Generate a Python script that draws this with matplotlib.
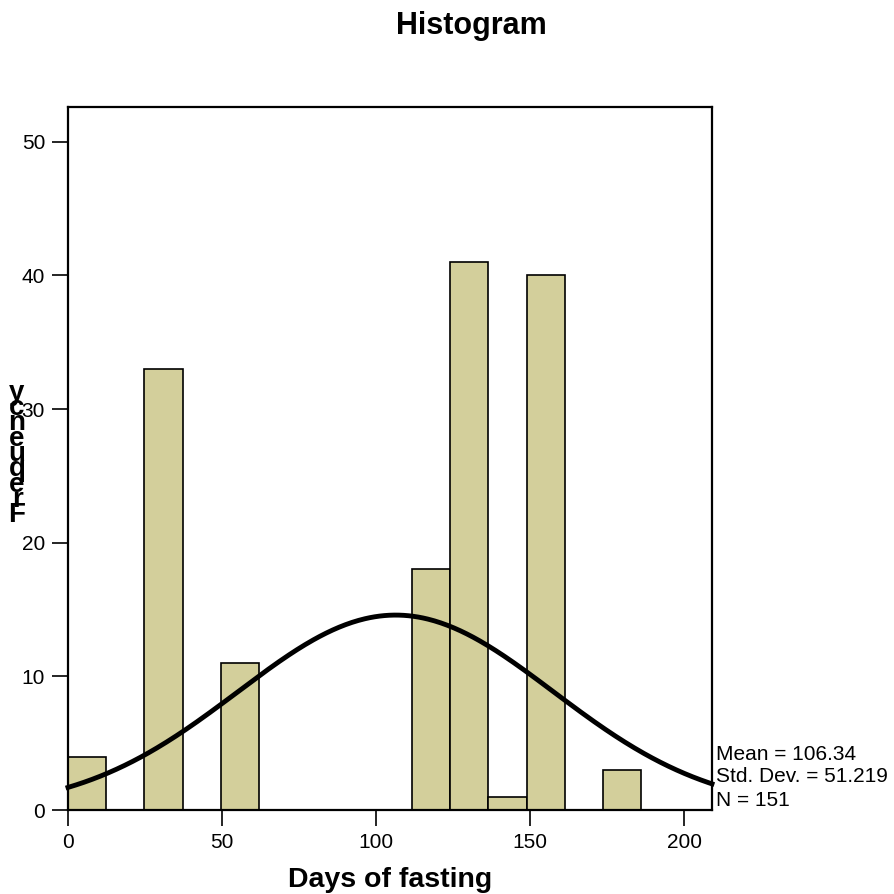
import numpy as np
import matplotlib
matplotlib.use("Agg")
import matplotlib.pyplot as plt

plt.rcParams["font.family"] = ["Liberation Sans", "DejaVu Sans"]

# histogram bins (days of fasting) and counts
bin_width = 12.4
bin_starts = [0, 24.8, 49.6, 111.6, 124.0, 136.4, 148.8, 173.6]
counts = [4, 33, 11, 18, 41, 1, 40, 3]

mean = 106.34
std = 51.219
n = 151

x_ticks = [0, 50, 100, 150, 200]
y_ticks = [0, 10, 20, 30, 40, 50]

fig = plt.figure(figsize=(8.95, 8.94), dpi=100)
ax = fig.add_axes([68 / 895, 1 - 810 / 894, 644 / 895, 703 / 894])

ax.bar(bin_starts, counts, width=bin_width, align="edge",
       color="#D3CF9B", edgecolor="black", linewidth=1.2, zorder=2)

# normal curve scaled to the histogram
xs = np.linspace(0, 209, 400)
ys = n * bin_width / (std * np.sqrt(2 * np.pi)) * np.exp(-0.5 * ((xs - mean) / std) ** 2)
ax.plot(xs, ys, color="black", linewidth=3.5, zorder=3, clip_on=False)

ax.set_xlim(0, 209)
ax.set_ylim(0, 52.6)
ax.set_xticks(x_ticks)
ax.set_yticks(y_ticks)
ax.tick_params(direction="out", length=11.5, width=1.2, labelsize=15, pad=5)
for s in ax.spines.values():
    s.set_linewidth(1.6)

ax.set_xlabel("Days of fasting", fontsize=20.5, fontweight="bold", labelpad=11)

# stacked y label letters, as in the source
for i, ch in enumerate("ycneuqerF"):
    fig.text(17 / 895, 1 - (400 + i * 15.25) / 894, ch, fontsize=20, fontweight="bold",
             ha="center", va="baseline")

fig.text(471 / 895, 1 - 26 / 894, "Histogram", fontsize=22, fontweight="bold",
         ha="center", va="center")

stats = [f"Mean = {mean:.2f}", f"Std. Dev. = {std:.3f}", f"N = {n}"]
for i, line in enumerate(stats):
    fig.text(716 / 895, 1 - (754 + i * 23) / 894, line, fontsize=15,
             ha="left", va="center")

fig.savefig("out.png", dpi=100)
